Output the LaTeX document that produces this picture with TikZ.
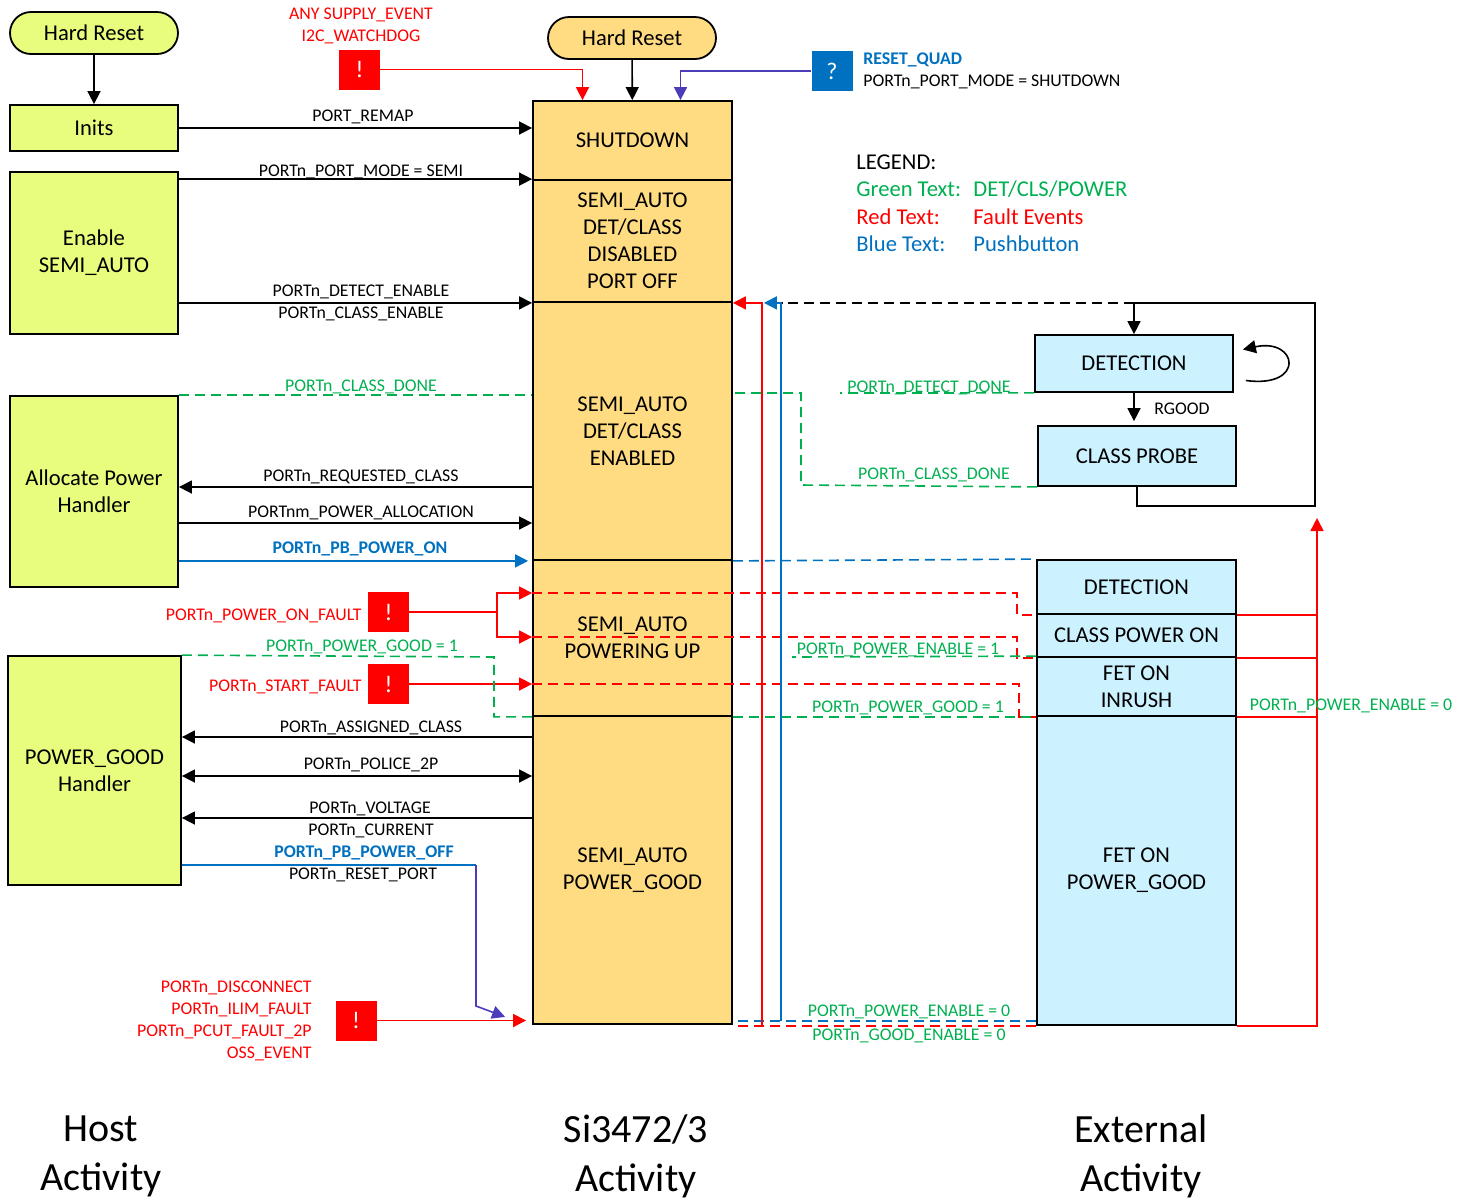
\documentclass[tikz,border=0pt]{standalone}
\usepackage{fontspec}
\setmainfont{Carlito}
\usetikzlibrary{arrows.meta}
\definecolor{hostfill}{RGB}{232,253,125}
\definecolor{chipfill}{RGB}{255,220,130}
\definecolor{extfill}{RGB}{204,242,255}
\definecolor{detgreen}{RGB}{0,176,80}
\definecolor{pbblue}{RGB}{0,112,192}
\definecolor{rstpurple}{RGB}{75,60,185}
\def\boxfont{\fontsize{11.3}{13.5}\selectfont}
\def\sigfont{\fontsize{8.9}{11}\selectfont}
\tikzset{
  blk/.style={draw, line width=0.9pt, inner sep=0pt, align=center, font=\boxfont},
  hostbox/.style={blk, fill=hostfill, minimum width=84pt},
  chipbox/.style={blk, fill=chipfill, minimum width=99.5pt},
  extbox/.style={blk, fill=extfill, minimum width=99.5pt},
  resetpill/.style={blk, rounded corners=10.5pt, minimum width=84pt, minimum height=21pt},
  siglabel/.style={inner sep=0pt, align=center, font=\sigfont, yshift=-0.5pt},
  eventbox/.style={fill=#1, text=white, inner sep=0pt, minimum width=20.5pt, minimum height=20pt, font=\fontsize{12}{14}\selectfont},
  legend/.style={anchor=west, inner sep=0pt, font=\boxfont},
  caption/.style={inner sep=0pt, align=center, font=\fontsize{20}{24.5}\selectfont, yshift=-0.8pt},
  wire/.style={line width=0.8pt},
  dashwire/.style={line width=0.8pt, dash pattern=on 5pt off 3pt},
  arr/.style={-{Triangle[length=6.5pt,width=6.5pt]}},
  biarr/.style={{Triangle[length=6.5pt,width=6.5pt]}-{Triangle[length=6.5pt,width=6.5pt]}},
}
\begin{document}
\begin{tikzpicture}[x=0.5pt, y=-0.5pt]
  \useasboundingbox (0,0) rectangle (1470,1201);
  %%%%% HOST %%%%%
  \node[resetpill, fill=hostfill] (rstL) at (94,33) {Hard Reset};
  \node[hostbox, minimum height=23pt] (inits) at (94,128) {Inits};
  \node[hostbox, minimum height=81pt] (enable) at (94,253) {Enable\\SEMI\_AUTO};
  \node[hostbox, minimum height=95.5pt] (alloc) at (94,491.5) {Allocate Power\\Handler};
  \node[hostbox, minimum width=86.5pt, minimum height=114.5pt] (pgood) at (94.5,770.5) {POWER\_GOOD\\Handler};

  %%%%% SI3472/3 %%%%%
  \node[resetpill, fill=chipfill] (rstM) at (632,38) {Hard Reset};
  \node[chipbox, minimum height=39.5pt] (shut) at (632.5,140.5) {SHUTDOWN};
  \node[chipbox, minimum height=61pt] (dis) at (632.5,241) {SEMI\_AUTO\\DET/CLASS\\DISABLED\\PORT OFF};
  \node[chipbox, minimum height=129pt] (en) at (632.5,431) {SEMI\_AUTO\\DET/CLASS\\ENABLED};
  \node[chipbox, minimum height=78pt] (pwrup) at (632.5,638) {SEMI\_AUTO\\POWERING UP};
  \node[chipbox, minimum height=154pt] (pg) at (632.5,870) {SEMI\_AUTO\\POWER\_GOOD};

  %%%%% EXTERNAL %%%%%
  \node[extbox, minimum width=99pt, minimum height=28.5pt] (det) at (1134,363.5) {DETECTION};
  \node[extbox, minimum width=99pt, minimum height=30pt] (cls) at (1137,456) {CLASS PROBE};
  \node[extbox, minimum height=27pt] (xdet) at (1136.5,587) {DETECTION};
  \node[extbox, minimum height=21.5pt] (xcpo) at (1136.5,635.5) {CLASS POWER ON};
  \node[extbox, minimum height=29.5pt] (xinr) at (1136.5,686.5) {FET ON\\INRUSH};
  \node[extbox, minimum height=154.5pt] (xpg) at (1136.5,870.5) {FET ON\\POWER\_GOOD};

  %%%%% EVENTS %%%%%
  \node[eventbox=red] (bSup) at (359.5,69.5) {!};
  \node[eventbox=pbblue] (quest) at (832,71) {?};
  \node[eventbox=red] (bOn) at (388.5,612) {!};
  \node[eventbox=red] (bStart) at (388.5,684) {!};
  \node[eventbox=red] (bOff) at (356,1020.5) {!};

  \coordinate (fork) at (497,612);
  \coordinate (pbTurn) at (476,865);
  \coordinate (pbBend) at (476,1006);
  \coordinate (redRise) at (762,1025);
  \coordinate (blueRise) at (781,1021);
  \coordinate (loopCorner) at (1315,506);
  \coordinate (faultRise) at (1317,518);

  %%%%% CONNECTORS %%%%%
  \draw[wire, arr] (rstL) -- (inits);
  \draw[wire, arr] (rstM) -- (shut);
  \draw[wire, arr, red] (bSup.east) -| ([xshift=-25pt]shut.north);
  \draw[wire, arr, rstpurple] (quest.west) -| ([xshift=24pt]shut.north);

  \draw[wire, arr] (inits.east) -- (inits.east -| shut.west);
  \draw[wire, arr] (enable.east |- dis.north) -- (dis.north west);
  \draw[wire, arr] (enable.east |- dis.south) -- (dis.south west);
  \draw[dashwire, detgreen] (alloc.north east) -- (alloc.north east -| en.west);
  \draw[wire, arr] (en.west |- 0,487) -- (alloc.east |- 0,487);
  \draw[wire, arr] (alloc.east |- 0,523) -- (en.west |- 0,523);
  \draw[wire, arr, pbblue] (alloc.east |- en.south) -- ([xshift=-2pt]en.south west);
  \draw[dashwire, pbblue] (en.south east) -- (xdet.north west);

  \draw[wire, red] (bOn.east) -- (fork);
  \draw[wire, arr, red] (fork) |- (pwrup.west |- 0,593);
  \draw[wire, arr, red] (fork) |- (pwrup.west |- 0,637);
  \draw[dashwire, red] (pwrup.west |- 0,593) -- (1017,593) |- (xdet.south west);
  \draw[dashwire, red] (pwrup.west |- 0,637) -- (1017,637) |- (xcpo.south west);
  \draw[wire, arr, red] (bStart.east) -- (pwrup.west |- bStart.east);
  \draw[dashwire, red] (pwrup.west |- bStart.east) -- (1019,684) |- (xinr.south west);

  \draw[dashwire, detgreen] (pgood.north east) -- (494,657) |- (pwrup.south west);
  \draw[dashwire, detgreen] (pwrup.south east) -- (xinr.south west);
  \draw[dashwire, detgreen] (xinr.north west) -- (792,657);

  \draw[wire, arr] (pg.west |- 0,737) -- (pgood.east |- 0,737);
  \draw[wire, biarr] (pgood.east |- 0,776) -- (pg.west |- 0,776);
  \draw[wire, arr] (pg.west |- 0,818) -- (pgood.east |- 0,818);
  \draw[wire, pbblue] (pgood.east |- pbTurn) -- (pbTurn);
  \draw[wire, arr, rstpurple] (pbTurn) -- (pbBend) -- ([xshift=-13.5pt,yshift=4pt]pg.south west);
  \draw[wire, arr, red] (bOff.east) -- ([xshift=-3pt]pg.west |- bOff.east);

  \draw[dashwire, red] (xpg.south west) -- (xpg.south west -| pg.east);
  \draw[dashwire, pbblue] (xpg.west |- blueRise) -- (pg.east |- blueRise);
  \draw[wire, arr, red] (redRise) |- (dis.south east);
  \draw[wire, arr, pbblue] (blueRise) |- ([xshift=15.5pt]dis.south east);
  \draw[dashwire] (det.north |- dis.south) -- ([xshift=24.5pt]dis.south east);
  \draw[wire, arr] (det.north |- dis.south) -- (det.north);
  \draw[wire] (det.north |- dis.south) -| (loopCorner) -| (cls.south);
  \draw[wire, arr] (det.south) -- ([yshift=2pt]det.south |- cls.north);
  \draw[wire, arr] ([xshift=6pt,yshift=-8.5pt]det.east) .. controls +(60,8) and +(55,-12) .. ([xshift=4.5pt,yshift=7pt]det.east);
  \draw[dashwire, detgreen] (det.south west) -- (840,393);
  \draw[dashwire, detgreen] (cls.south west) -- (801,485) |- (en.east |- 0,393);

  \draw[wire, arr, red] (xpg.south east) -| (faultRise);
  \draw[wire, red] (xdet.south east) -- (xdet.south east -| faultRise);
  \draw[wire, red] (xcpo.south east) -- (xcpo.south east -| faultRise);
  \draw[wire, red] (xinr.south east) -- (xinr.south east -| faultRise);

  %%%%% LABELS %%%%%
  \node[siglabel, text=red] (lSup) at (361,25) {ANY SUPPLY\_EVENT\\I2C\_WATCHDOG};
  \node[siglabel, anchor=west, align=left] (lQuad) at (863,70) {\textcolor{pbblue}{\bfseries RESET\_QUAD}\\PORTn\_PORT\_MODE = SHUTDOWN};
  \node[siglabel] (lRemap) at (363,116) {PORT\_REMAP};
  \node[siglabel] (lMode) at (361,171) {PORTn\_PORT\_MODE = SEMI};
  \node[siglabel] (lDetEn) at (361,291) {PORTn\_DETECT\_ENABLE};
  \node[siglabel] (lClsEn) at (361,313) {PORTn\_CLASS\_ENABLE};
  \node[siglabel, text=detgreen] (lClsDoneL) at (361,386) {PORTn\_CLASS\_DONE};
  \node[siglabel] (lReq) at (361,476) {PORTn\_REQUESTED\_CLASS};
  \node[siglabel] (lAlloc) at (361,512) {PORTnm\_POWER\_ALLOCATION};
  \node[siglabel, text=pbblue, font=\sigfont\bfseries] (lPbOn) at (360,548) {PORTn\_PB\_POWER\_ON};
  \node[siglabel, text=red, anchor=east] (lOnFault) at (362,615) {PORTn\_POWER\_ON\_FAULT};
  \node[siglabel, text=detgreen] (lPgL) at (362,646) {PORTn\_POWER\_GOOD = 1};
  \node[siglabel, text=red, anchor=east] (lStart) at (362,686) {PORTn\_START\_FAULT};
  \node[siglabel] (lAssign) at (371,727) {PORTn\_ASSIGNED\_CLASS};
  \node[siglabel] (lPolice) at (371,764) {PORTn\_POLICE\_2P};
  \node[siglabel] (lVolt) at (370,808) {PORTn\_VOLTAGE};
  \node[siglabel] (lCurr) at (371,830) {PORTn\_CURRENT};
  \node[siglabel, text=pbblue, font=\sigfont\bfseries] (lPbOff) at (364,852) {PORTn\_PB\_POWER\_OFF};
  \node[siglabel] (lReset) at (363,874) {PORTn\_RESET\_PORT};
  \node[siglabel, text=red, anchor=east, align=right] (lOffFaults) at (312,1020) {PORTn\_DISCONNECT\\PORTn\_ILIM\_FAULT\\PORTn\_PCUT\_FAULT\_2P\\OSS\_EVENT};
  \node[siglabel, text=detgreen] (lDetDone) at (929,387) {PORTn\_DETECT\_DONE};
  \node[siglabel, text=detgreen] (lClsDoneR) at (934,474) {PORTn\_CLASS\_DONE};
  \node[siglabel] (lRgood) at (1182,408) {RGOOD};
  \node[siglabel, text=detgreen] (lEnOne) at (898,649) {PORTn\_POWER\_ENABLE = 1};
  \node[siglabel, text=detgreen] (lPgR) at (908,707) {PORTn\_POWER\_GOOD = 1};
  \node[siglabel, text=detgreen] (lEnZeroR) at (1351,705) {PORTn\_POWER\_ENABLE = 0};
  \node[siglabel, text=detgreen] (lEnZeroB) at (909,1011) {PORTn\_POWER\_ENABLE = 0};
  \node[siglabel, text=detgreen] (lGoodZero) at (909,1035) {PORTn\_GOOD\_ENABLE = 0};

  %%%%% LEGEND %%%%%
  \node[legend] (legHead) at (856,162) {LEGEND:};
  \node[legend, text=detgreen] (legGreenKey) at (856,189) {Green Text:};
  \node[legend, text=detgreen] (legGreenVal) at (973,189) {DET/CLS/POWER};
  \node[legend, text=red] (legRedKey) at (856,217) {Red Text:};
  \node[legend, text=red] (legRedVal) at (973,217) {Fault Events};
  \node[legend, text=pbblue] (legBlueKey) at (856,244) {Blue Text:};
  \node[legend, text=pbblue] (legBlueVal) at (973,244) {Pushbutton};

  %%%%% CAPTIONS %%%%%
  \node[caption] (capHost) at (101,1155) {Host\\Activity};
  \node[caption] (capChip) at (636,1155) {Si3472/3\\Activity};
  \node[caption] (capExt) at (1141,1155) {External\\Activity};
\end{tikzpicture}
\end{document}
